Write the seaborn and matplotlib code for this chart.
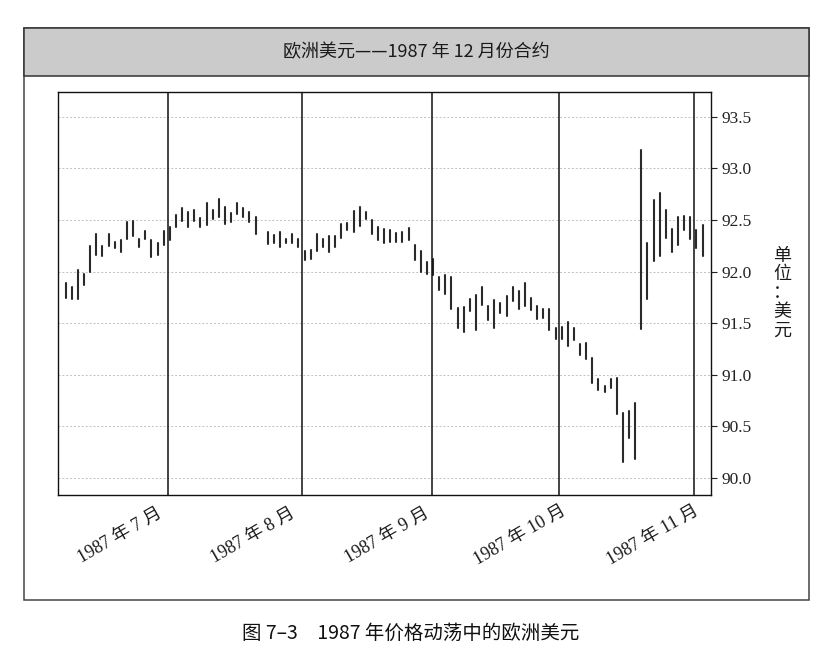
import pandas as pd
import matplotlib.pyplot as plt
import seaborn as sns
from matplotlib.patches import Rectangle

# ==========================================
# DATA: daily high / low, Eurodollar Dec 1987 contract
# ==========================================
day = list(range(0, 32)) + list(range(33, 105))

high = [91.89, 91.85, 92.02, 91.98, 92.25, 92.36, 92.25, 92.36, 92.29, 92.31,
        92.48, 92.49, 92.32, 92.39, 92.31, 92.28, 92.39,
        92.43, 92.55, 92.62, 92.58, 92.60, 92.52, 92.66, 92.60, 92.70, 92.63,
        92.57, 92.66, 92.62, 92.58, 92.53,
        92.38, 92.35, 92.38, 92.32, 92.36, 92.32,
        92.20, 92.21, 92.36, 92.32, 92.34, 92.34, 92.46, 92.47, 92.59, 92.63,
        92.58, 92.50, 92.43, 92.41, 92.40, 92.37, 92.38, 92.42, 92.26, 92.20, 92.09,
        92.12, 91.95, 91.97, 91.95, 91.65, 91.66, 91.73, 91.77, 91.85, 91.67,
        91.72, 91.70, 91.76, 91.85, 91.81, 91.89, 91.74, 91.67, 91.64, 91.64, 91.45,
        91.46, 91.51, 91.45, 91.30, 91.31, 91.16, 90.96, 90.89, 90.96, 90.97,
        90.63, 90.65, 90.73,
        93.18, 92.28, 92.69, 92.76, 92.60, 92.41, 92.53, 92.54, 92.53,
        92.40, 92.45]

low = [91.74, 91.73, 91.73, 91.87, 92.00, 92.16, 92.15, 92.25, 92.23, 92.19,
       92.32, 92.34, 92.24, 92.32, 92.14, 92.16, 92.26,
       92.31, 92.43, 92.49, 92.43, 92.49, 92.43, 92.45, 92.51, 92.53, 92.46,
       92.48, 92.56, 92.53, 92.48, 92.36,
       92.27, 92.28, 92.24, 92.28, 92.28, 92.24,
       92.11, 92.12, 92.20, 92.24, 92.19, 92.24, 92.33, 92.40, 92.38, 92.44,
       92.51, 92.36, 92.31, 92.28, 92.29, 92.29, 92.29, 92.31, 92.11, 92.00, 91.98,
       91.97, 91.82, 91.78, 91.64, 91.45, 91.41, 91.62, 91.43, 91.68, 91.53,
       91.45, 91.60, 91.57, 91.71, 91.64, 91.67, 91.63, 91.54, 91.55, 91.43, 91.35,
       91.35, 91.28, 91.34, 91.19, 91.15, 90.92, 90.85, 90.83, 90.87, 90.62,
       90.15, 90.39, 90.18,
       91.44, 91.73, 92.10, 92.15, 92.33, 92.19, 92.26, 92.40, 92.32,
       92.23, 92.15]

month_lines = [16.75, 38.6, 59.85, 80.6, 102.6]
month_labels = ['1987 年 7 月', '1987 年 8 月', '1987 年 9 月', '1987 年 10 月', '1987 年 11 月']
label_pos = [8.9, 30.6, 52.4, 74.2, 95.9]
y_ticks = [90.0, 90.5, 91.0, 91.5, 92.0, 92.5, 93.0, 93.5]

# long table: one high row and one low row per day -> one vertical line per day
df = pd.DataFrame({'day': day + day, 'price': high + low})

# ==========================================
# STYLE
# ==========================================
sns.set_theme(style='white')
plt.rcParams['font.family'] = ['Liberation Serif', 'Noto Sans CJK SC']
cjk = ['Noto Sans CJK SC', 'DejaVu Sans']

fig = plt.figure(figsize=(8.4, 6.62), dpi=100)
W, H = 840, 662

# outer frame and grey title band
fig.patches.append(Rectangle((24 / W, 1 - 600 / H), (809 - 24) / W, (600 - 28) / H,
                             transform=fig.transFigure, fill=False,
                             edgecolor='#444444', linewidth=1.1))
fig.patches.append(Rectangle((24 / W, 1 - 76 / H), (809 - 24) / W, 48 / H,
                             transform=fig.transFigure, facecolor='#cbcbcb',
                             edgecolor='#333333', linewidth=1.1))
fig.text(416.5 / W, 1 - 52 / H, '欧洲美元——1987 年 12 月份合约', ha='center', va='center',
         fontsize=13, family=cjk, color='#1a1a1a')

ax = fig.add_axes([58 / W, 1 - 495 / H, (710.5 - 58) / W, (495 - 92) / H])

sns.lineplot(data=df, x='day', y='price', units='day', estimator=None,
             color='#2a2a2a', linewidth=1.5, ax=ax, legend=False)

for m in month_lines:
    ax.axvline(m, color='#111111', linewidth=1.1)

ax.set_xlim(-1.26, 105.3)
ax.set_ylim(89.835, 93.74)
ax.set_xticks([])
ax.set_yticks(y_ticks)
ax.set_yticklabels([f'{v:.1f}' for v in y_ticks])
ax.yaxis.tick_right()
ax.tick_params(axis='y', direction='out', length=4, width=0.8, pad=4,
               labelsize=12.5, colors='#222222', right=True, left=False)
ax.grid(axis='y', color='#c0c0c0', linestyle=(0, (2, 2)), linewidth=0.7)
ax.set_axisbelow(True)
ax.set_xlabel('')
ax.set_ylabel('')
for s in ax.spines.values():
    s.set_color('#111111')
    s.set_linewidth(1.0)

# month labels below the chart
trans = ax.get_xaxis_transform()
for pos, lab in zip(label_pos, month_labels):
    ax.text(pos, -0.1, lab, transform=trans, rotation=30, ha='center', va='center',
            fontsize=13, color='#1a1a1a')

# unit label, written vertically
fig.text(782 / W, 1 - 293 / H, '单\n位\n：\n美\n元', ha='center', va='center',
         fontsize=13, family=cjk, color='#1a1a1a', linespacing=1.05)

# caption
fig.text(411 / W, 1 - 633 / H, '图 7–3　1987 年价格动荡中的欧洲美元', ha='center', va='center',
         fontsize=14, family=cjk, color='#111111')

fig.savefig('out.png', dpi=100)
